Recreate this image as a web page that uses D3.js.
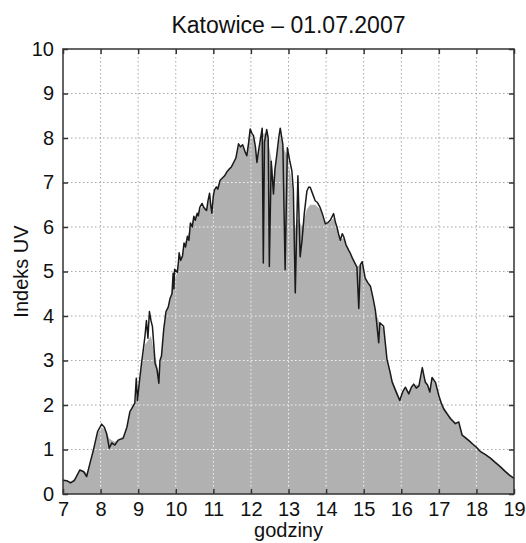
<!DOCTYPE html>
<html>
<head>
<meta charset="utf-8">
<script src="https://d3js.org/d3.v7.min.js"></script>
<style>
  body { margin: 0; background: #fff; }
  text { font-family: "Liberation Sans", Arial, sans-serif; fill: #111; }
</style>
</head>
<body>
<div id="chart"></div>
<script>
// measured UV index (black line): [hour, value]
var uvMeasured = [
  [7.0,0.31],[7.1,0.3],[7.2,0.25],[7.3,0.3],[7.45,0.54],[7.55,0.5],[7.63,0.39],[7.72,0.7],[7.81,0.99],[7.92,1.4],
  [8.03,1.57],[8.1,1.5],[8.16,1.36],[8.23,1.03],[8.3,1.15],[8.38,1.1],[8.47,1.21],[8.6,1.25],[8.7,1.5],[8.78,1.85],
  [8.85,1.95],[8.91,2.04],[8.95,2.6],[8.98,2.1],[9.03,2.5],[9.09,2.94],[9.13,3.2],[9.18,3.54],[9.22,3.9],[9.26,3.5],
  [9.3,4.1],[9.34,3.9],[9.38,3.76],[9.42,3.3],[9.45,2.94],[9.5,2.8],[9.55,2.49],[9.58,3.0],[9.62,3.1],[9.68,3.7],
  [9.74,4.1],[9.8,4.2],[9.85,4.4],[9.9,4.5],[9.93,4.96],[9.95,4.61],[9.97,5.05],[10.04,4.98],[10.07,5.2],[10.09,5.42],
  [10.13,5.25],[10.18,5.35],[10.22,5.64],[10.26,5.55],[10.31,5.79],[10.35,5.7],[10.39,6.09],[10.44,6.0],[10.48,6.24],[10.52,6.15],
  [10.57,6.31],[10.6,6.25],[10.64,6.44],[10.7,6.53],[10.74,6.45],[10.79,6.39],[10.82,6.37],[10.86,6.6],[10.9,6.76],[10.93,6.5],
  [10.96,6.31],[11.0,6.7],[11.03,6.83],[11.08,6.9],[11.12,6.85],[11.18,7.05],[11.24,7.1],[11.3,7.15],[11.36,7.24],[11.42,7.3],
  [11.48,7.35],[11.54,7.45],[11.6,7.55],[11.67,7.87],[11.72,7.8],[11.78,7.85],[11.84,7.7],[11.89,7.6],[11.94,7.9],[11.98,8.2],
  [12.03,8.1],[12.07,8.05],[12.12,7.8],[12.16,7.45],[12.2,7.7],[12.23,7.85],[12.3,8.22],[12.33,5.19],[12.36,7.9],[12.42,8.19],
  [12.46,8.0],[12.49,5.11],[12.54,7.48],[12.6,6.74],[12.64,7.3],[12.69,7.63],[12.74,8.0],[12.78,8.22],[12.85,7.85],[12.91,5.04],
  [12.97,7.78],[13.03,7.5],[13.09,7.26],[13.13,6.8],[13.18,4.52],[13.25,7.15],[13.31,5.33],[13.36,5.7],[13.42,6.3],[13.49,6.81],
  [13.54,6.9],[13.58,6.89],[13.64,6.75],[13.71,6.59],[13.77,6.55],[13.84,6.44],[13.9,6.3],[13.98,6.07],[14.05,6.1],[14.11,6.15],
  [14.2,6.3],[14.25,6.1],[14.29,6.0],[14.33,5.85],[14.38,5.7],[14.43,5.85],[14.47,5.78],[14.53,5.6],[14.6,5.48],[14.65,5.4],
  [14.7,5.3],[14.76,5.2],[14.82,5.1],[14.87,4.17],[14.91,5.15],[14.96,5.22],[15.04,4.85],[15.11,4.75],[15.18,4.67],[15.25,4.4],
  [15.31,4.14],[15.4,3.4],[15.43,3.85],[15.53,3.77],[15.62,3.03],[15.7,2.75],[15.76,2.51],[15.86,2.3],[15.96,2.1],[16.04,2.3],
  [16.11,2.4],[16.2,2.25],[16.27,2.4],[16.33,2.47],[16.4,2.38],[16.47,2.43],[16.56,2.84],[16.64,2.51],[16.7,2.45],[16.76,2.29],
  [16.82,2.62],[16.91,2.51],[17.0,2.21],[17.06,2.05],[17.13,1.91],[17.22,1.8],[17.31,1.69],[17.44,1.58],[17.53,1.62],[17.62,1.32],
  [17.71,1.26],[17.8,1.2],[17.89,1.13],[18.0,1.05],[18.11,0.95],[18.25,0.88],[18.38,0.8],[18.5,0.71],[18.64,0.61],[18.75,0.52],
  [18.87,0.43],[19.0,0.35]
];

// smoothed UV index (grey area): [hour, value]
var uvSmooth = [
  [7.0,0.33],[7.1,0.31],[7.2,0.28],[7.3,0.33],[7.45,0.53],[7.55,0.52],[7.63,0.47],[7.72,0.72],[7.81,1.0],[7.92,1.36],
  [8.03,1.5],[8.1,1.46],[8.16,1.39],[8.23,1.25],[8.3,1.21],[8.38,1.17],[8.47,1.23],[8.6,1.3],[8.7,1.52],[8.78,1.82],
  [8.85,1.96],[8.91,2.06],[9.0,2.3],[9.09,2.85],[9.18,3.35],[9.26,3.45],[9.34,3.55],[9.42,3.2],[9.5,2.9],[9.55,2.72],
  [9.62,3.1],[9.68,3.62],[9.74,4.02],[9.85,4.37],[9.93,4.72],[10.04,4.97],[10.09,5.3],[10.18,5.36],[10.22,5.6],[10.31,5.76],
  [10.39,6.02],[10.48,6.2],[10.57,6.3],[10.7,6.46],[10.82,6.42],[10.9,6.66],[10.96,6.48],[11.03,6.8],[11.18,7.02],[11.36,7.23],
  [11.54,7.44],[11.67,7.8],[11.78,7.8],[11.89,7.66],[11.98,8.1],[12.07,8.0],[12.16,7.55],[12.23,7.8],[12.3,8.1],[12.42,8.1],
  [12.54,7.55],[12.6,7.1],[12.69,7.6],[12.78,8.1],[12.85,7.8],[12.97,7.6],[13.09,7.0],[13.18,6.0],[13.25,6.2],[13.36,6.0],
  [13.49,6.4],[13.58,6.5],[13.71,6.5],[13.84,6.4],[13.98,6.06],[14.11,6.12],[14.2,6.2],[14.29,5.98],[14.38,5.72],[14.47,5.75],
  [14.6,5.46],[14.7,5.3],[14.82,5.12],[14.96,5.16],[15.04,4.86],[15.18,4.66],[15.31,4.12],[15.43,3.82],[15.53,3.72],[15.62,3.06],
  [15.76,2.56],[15.96,2.16],[16.11,2.4],[16.2,2.3],[16.33,2.46],[16.47,2.45],[16.56,2.75],[16.64,2.56],[16.76,2.36],[16.82,2.6],
  [16.91,2.5],[17.0,2.25],[17.13,1.96],[17.31,1.73],[17.44,1.61],[17.53,1.61],[17.62,1.36],[17.71,1.29],[17.89,1.16],[18.11,0.98],
  [18.38,0.82],[18.64,0.63],[18.87,0.45],[19.0,0.36]
];

var xTicks = [7,8,9,10,11,12,13,14,15,16,17,18,19];
var yTicks = [0,1,2,3,4,5,6,7,8,9,10];

var margin = {top: 49, right: 12, bottom: 49, left: 63},
    width = 526 - margin.left - margin.right,
    height = 543 - margin.top - margin.bottom;

var svg = d3.select("#chart").append("svg")
    .attr("width", 526)
    .attr("height", 543);

var g = svg.append("g")
    .attr("transform", "translate(" + margin.left + "," + margin.top + ")");

var x = d3.scaleLinear().domain([7, 19]).range([0, width]);
var y = d3.scaleLinear().domain([0, 10]).range([height, 0]);

var area = d3.area()
    .x(function(d) { return x(d[0]); })
    .y0(height)
    .y1(function(d) { return y(d[1]); });

var line = d3.line()
    .x(function(d) { return x(d[0]); })
    .y(function(d) { return y(d[1]); });

g.append("defs").append("clipPath")
    .attr("id", "areaclip")
    .append("path")
    .attr("d", area(uvSmooth));

// grid, drawn twice: grey on white, white over the filled area
function drawGrid(parent, color) {
    parent.selectAll(".gx")
        .data(xTicks.slice(1, -1))
        .enter().append("line")
        .attr("x1", function(d) { return x(d); })
        .attr("x2", function(d) { return x(d); })
        .attr("y1", 0).attr("y2", height)
        .attr("stroke", color)
        .attr("stroke-width", 1)
        .attr("stroke-dasharray", "1.5,2.5");
    parent.selectAll(".gy")
        .data(yTicks.slice(1, -1))
        .enter().append("line")
        .attr("y1", function(d) { return y(d); })
        .attr("y2", function(d) { return y(d); })
        .attr("x1", 0).attr("x2", width)
        .attr("stroke", color)
        .attr("stroke-width", 1)
        .attr("stroke-dasharray", "1.5,2.5");
}

drawGrid(g.append("g"), "#a8a8a8");

g.append("path")
    .attr("d", area(uvSmooth))
    .attr("fill", "#b1b1b1");

drawGrid(g.append("g").attr("clip-path", "url(#areaclip)"), "#f4f4f4");

g.append("path")
    .attr("d", line(uvMeasured))
    .attr("fill", "none")
    .attr("stroke", "#1a1a1a")
    .attr("stroke-width", 1.5)
    .attr("stroke-linejoin", "round");

// axes, ticks pointing inward on all four sides
var xAxis = d3.axisBottom(x).tickValues(xTicks).tickSize(-5).tickPadding(8).tickFormat(d3.format("d"));
var yAxis = d3.axisLeft(y).tickValues(yTicks).tickSize(-5).tickPadding(8).tickFormat(d3.format("d"));

var gx = g.append("g")
    .attr("transform", "translate(0," + height + ")")
    .call(xAxis);
var gy = g.append("g").call(yAxis);

g.append("g").call(d3.axisTop(x).tickValues(xTicks).tickSize(-5).tickFormat(""));
g.append("g").attr("transform", "translate(" + width + ",0)")
    .call(d3.axisRight(y).tickValues(yTicks).tickSize(-5).tickFormat(""));

g.selectAll(".domain").remove();
g.selectAll(".tick line").attr("stroke", "#333").attr("stroke-width", 1.5);
g.selectAll(".tick text").style("font-size", "20px").attr("fill", "#111");
gy.selectAll(".tick text").attr("dx", "-1px");

g.append("rect")
    .attr("width", width)
    .attr("height", height)
    .attr("fill", "none")
    .attr("stroke", "#333")
    .attr("stroke-width", 1.5);

// labels
svg.append("text")
    .attr("x", margin.left + width / 2)
    .attr("y", 33)
    .attr("text-anchor", "middle")
    .style("font-size", "23px")
    .text("Katowice \u2013 01.07.2007");

svg.append("text")
    .attr("x", margin.left + width / 2)
    .attr("y", 537)
    .attr("text-anchor", "middle")
    .style("font-size", "20px")
    .text("godziny");

svg.append("text")
    .attr("transform", "rotate(-90)")
    .attr("x", -(margin.top + height / 2))
    .attr("y", 28)
    .attr("text-anchor", "middle")
    .style("font-size", "20px")
    .text("Indeks UV");
</script>
</body>
</html>
